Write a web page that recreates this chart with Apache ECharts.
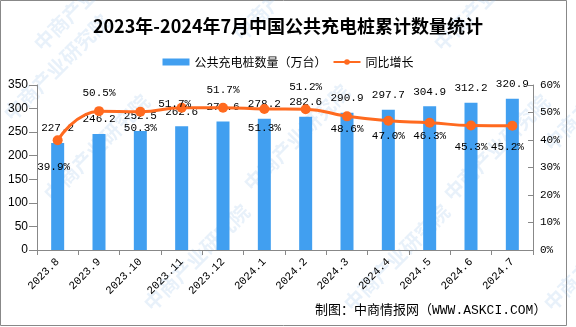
<!DOCTYPE html>
<html><head><meta charset="utf-8">
<script src="https://cdn.jsdelivr.net/npm/echarts@6/dist/echarts.min.js"></script>
<style>html,body{margin:0;padding:0;background:#fff}#c{width:576px;height:327px}</style>
</head><body><div id="c"></div>
<script>
var categories = ['2023.8','2023.9','2023.10','2023.11','2023.12','2024.1','2024.2','2024.3','2024.4','2024.5','2024.6','2024.7'];
var pileCounts = [227.2,246.2,252.5,262.6,272.6,278.2,282.6,290.9,297.7,304.9,312.2,320.9];
var growthRates = [39.9,50.5,50.3,51.7,51.7,51.3,51.2,48.6,47.0,46.3,45.3,45.2];
var leftTicks = [0,50,100,150,200,250,300,350];
var rightTicks = [0,10,20,30,40,50,60];
// label offsets (style only)
var growthLabelOffsets = [[-4,27],[0,-18],[0,16],[-7,-4],[0,-18],[0,19],[0,-22],[0,13],[0,15],[0,13],[0,22],[-5,21]];

var mono = "'Liberation Mono','Noto Sans CJK SC',monospace";
var chart = echarts.init(document.getElementById('c'), null, {renderer:'canvas'});

var wm = [];
var wmPos = [[30,40],[230,30],[430,40],[40,190],[240,180],[440,190],[140,300],[340,300],[540,300],[0,110],[540,140]];
wmPos.forEach(function(p){
  wm.push({type:'text', x:p[0], y:p[1], rotation:Math.PI/4, z:0, silent:true,
    style:{text:'中商产业研究院', fill:'rgba(140,185,230,0.2)', font:'bold 20px "Noto Sans CJK SC"'}});
});

chart.setOption({
  animation:false,
  backgroundColor:'#fff',
  title:{text:'2023年-2024年7月中国公共充电桩累计数量统计', left:'center', top:12,
    textStyle:{fontSize:18, fontWeight:'bold', color:'#000', fontFamily:"'Noto Sans CJK SC'"}},
  legend:{top:51, left:'center', itemGap:6, textStyle:{fontSize:12, color:'#000', fontFamily:"'Noto Sans CJK SC'"},
    data:[{name:'公共充电桩数量（万台）', icon:'rect', itemStyle:{color:'#419ff0'}},
          {name:'同比增长'}],
    itemWidth:27, itemHeight:7},
  grid:{left:37, right:43, top:85, bottom:77, containLabel:false},
  xAxis:{type:'category', data:categories, boundaryGap:true,
    axisLine:{lineStyle:{color:'#888', width:1}},
    axisTick:{show:true, alignWithLabel:false, length:5, lineStyle:{color:'#888'}},
    axisLabel:{rotate:45, interval:0, fontSize:11, color:'#000', fontFamily:mono, margin:10}},
  yAxis:[
    {type:'value', min:0, max:350, interval:50, splitLine:{show:false},
      axisLine:{show:true, lineStyle:{color:'#888'}},
      axisTick:{show:true, length:8, lineStyle:{color:'#888'}},
      axisLabel:{fontSize:12, color:'#000', fontFamily:"'Liberation Sans'", margin:9}},
    {type:'value', min:0, max:60, interval:10, splitLine:{show:false}, position:'right',
      axisLine:{show:true, lineStyle:{color:'#888'}},
      axisTick:{show:true, inside:true, length:5, lineStyle:{color:'#888'}},
      axisLabel:{fontSize:11, color:'#000', fontFamily:mono, margin:7,
        formatter:function(v){return v+'%';}}}
  ],
  series:[
    {name:'公共充电桩数量（万台）', type:'bar', data:pileCounts, barWidth:13, yAxisIndex:0,
      itemStyle:{color:'#419ff0'},
      label:{show:true, position:'top', distance:9, fontSize:11, color:'#000', fontFamily:mono,
        formatter:function(p){return p.value.toFixed(1);}}},
    {name:'同比增长', type:'line', data:growthRates.map(function(v,i){
        return {value:v, label:{offset:growthLabelOffsets[i]}};
      }), yAxisIndex:1, smooth:true, symbol:'circle', symbolSize:10, z:5,
      lineStyle:{color:'#ff6a1f', width:3}, itemStyle:{color:'#ff6a1f'},
      label:{show:true, position:'inside', fontSize:11, color:'#000', fontFamily:mono,
        formatter:function(p){return p.value.toFixed(1)+'%';}}}
  ],
  graphic:wm.concat([
    {type:'rect', shape:{x:0.5,y:0.5,width:566,height:325}, style:{fill:null, stroke:'#888', lineWidth:1}, silent:true, z:-1},
    {type:'text', x:315, y:304, style:{text:'制图：中商情报网（WWW.ASKCI.COM）', fill:'#000', font:"13px 'Liberation Mono','Noto Sans CJK SC'"}}
  ])
});
</script></body></html>
